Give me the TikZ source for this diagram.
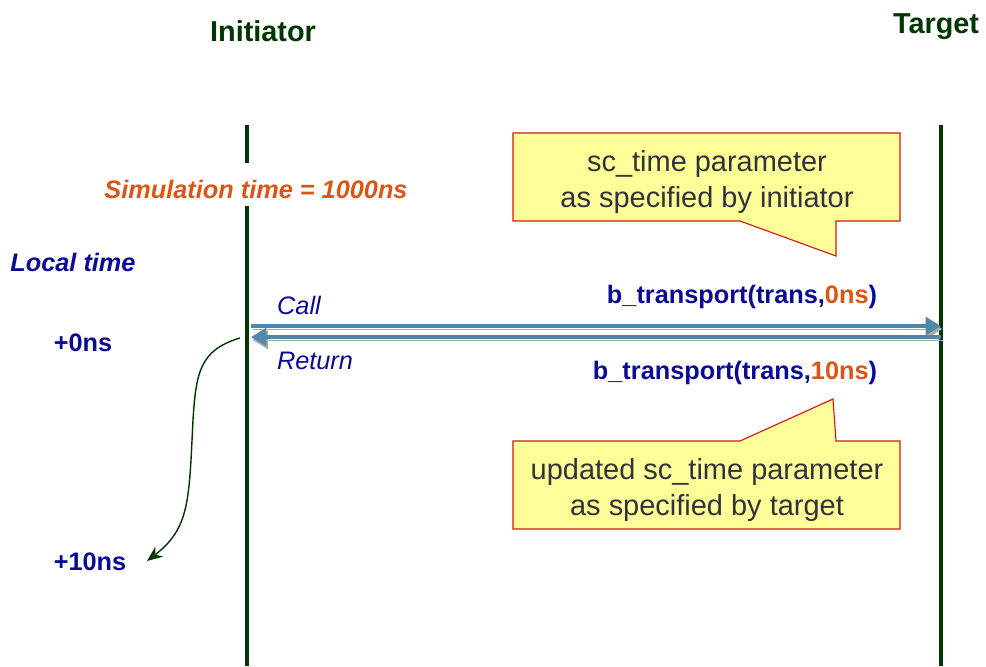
\documentclass[tikz,border=0pt]{standalone}
\usepackage{fontspec}
\setmainfont{Liberation Sans}
\usetikzlibrary{arrows,arrows.meta,positioning,calc}
\definecolor{tlmgreen}{RGB}{0,55,0}
\definecolor{tlmblue}{RGB}{10,10,150}
\definecolor{tlmorange}{RGB}{220,85,20}
\definecolor{tlmsteel}{RGB}{80,135,170}
\definecolor{tlmshadow}{RGB}{170,170,170}
\definecolor{noteyellow}{RGB}{255,255,153}
\definecolor{notered}{RGB}{215,20,20}
\definecolor{notegray}{RGB}{50,50,60}

\begin{document}
\begin{tikzpicture}[x=0.025cm, y=-0.025cm,
    lifeline/.style={draw=tlmgreen, line width=2.9pt},
    actor/.style={font=\fontsize{20.5}{24}\selectfont\bfseries, text=tlmgreen},
    stamp/.style={font=\fontsize{18}{22}\selectfont\bfseries, text=tlmblue},
    slant/.style={font=\fontsize{18}{22}\selectfont\itshape, text=tlmblue},
    call/.style={line width=2.9pt, draw=tlmsteel,
                 -{Triangle[length=11pt,width=12.5pt]},
                 preaction={draw=tlmshadow, transform canvas={shift={(1.5,3)}}}},
    note/.style={draw=notered, fill=noteyellow, line width=0.8pt},
    notetext/.style={font=\fontsize{20.6}{25}\selectfont, text=notegray, align=center},
]
\useasboundingbox (0,0) rectangle (986,666);

\node[actor] (ini) at (263,31) {Initiator};
\node[actor] (tgt) at (936,27) {Target};

\coordinate (itop) at (247,125);
\coordinate (igap) at (247,163);
\coordinate (ires) at (247,206);
\coordinate (ibot) at (247,666);
\coordinate (ttop) at (941,125);
\coordinate (tbot) at (941,666);
\draw[lifeline] (itop) -- (igap);
\draw[lifeline] (ires) -- (ibot);
\draw[lifeline] (ttop) -- (tbot);

\node[font=\fontsize{18}{22}\selectfont\bfseries\itshape, text=tlmorange]
    (simtime) at (256,189) {Simulation time = 1000ns};
\node[font=\fontsize{18}{22}\selectfont\bfseries\itshape, text=tlmblue]
    (local) at (73,262) {Local time};

% request and response
\coordinate (cfrom) at (251,326);
\coordinate (cto) at (941,326);
\coordinate (rfrom) at (941,337);
\coordinate (rto) at (251,337);
\draw[call] (cfrom) -- (cto);
\draw[call] (rfrom) -- (rto);

\node[slant] (calllbl) at (299,305) {Call};
\node[slant] (retlbl) at (315,361) {Return};
\node[stamp] (fwd) at (742,297)
    {b\_transport(trans,\textcolor{tlmorange}{0ns})};
\node[stamp] (bwd) at (735,373)
    {b\_transport(trans,\textcolor{tlmorange}{10ns})};

\node[stamp] (t0) at (83,343) {+0ns};
\node[stamp] (t10) at (90,562) {+10ns};
\coordinate (annotstart) at (240,338);
\coordinate (annotend) at (147,561);
\draw[tlmgreen, line width=1pt, -{Stealth[length=11pt,width=9pt]}]
    (annotstart) .. controls (200,350) and (196,372) .. (193,420)
    .. controls (189,500) and (190,528) .. (annotend);

% callouts
\coordinate (tipa) at (836,256);
\draw[note] (513,133) -- (900,133) -- (900,221) -- (836,221) -- (tipa)
    -- (740,221) -- (513,221) -- cycle;
\node[notetext] (notea) at (707,182)
    {sc\_time parameter\\as specified by initiator};

\coordinate (tipb) at (833,399);
\draw[note] (513,441) -- (740,441) -- (tipb) -- (836,441) -- (900,441)
    -- (900,529) -- (513,529) -- cycle;
\node[notetext] (noteb) at (707,490)
    {updated sc\_time parameter\\as specified by target};
\end{tikzpicture}
\end{document}
